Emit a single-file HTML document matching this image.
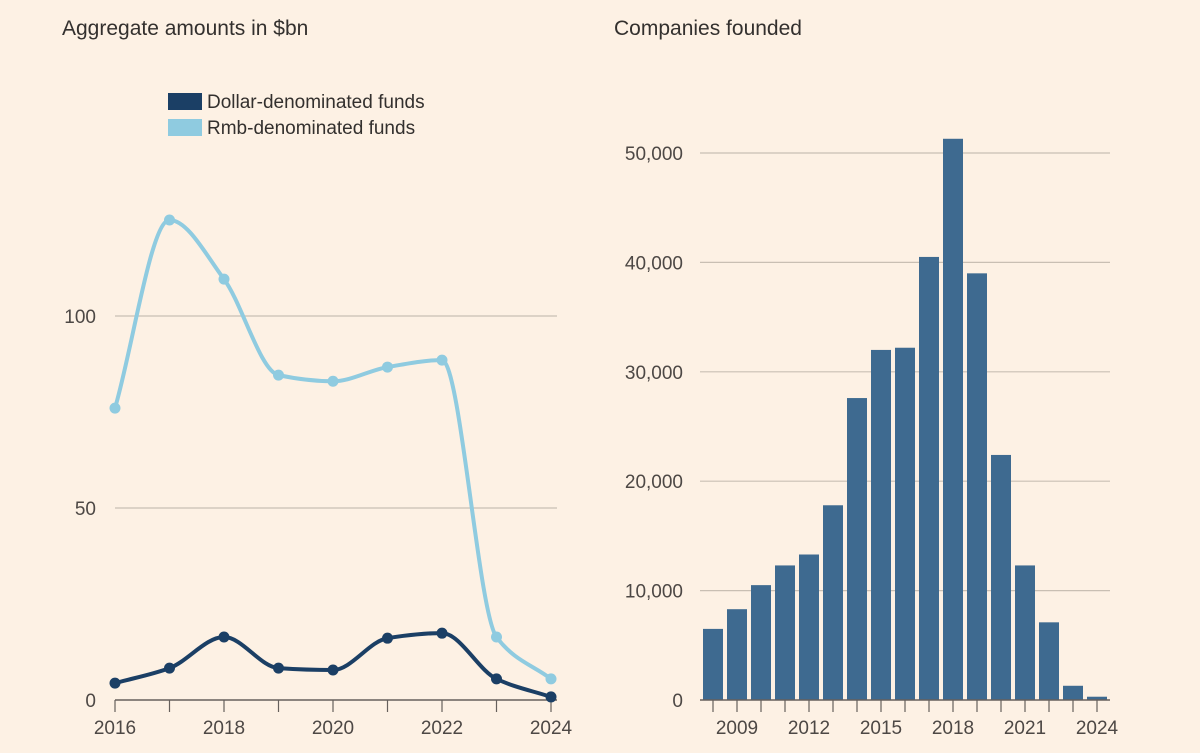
<!DOCTYPE html>
<html><head><meta charset="utf-8"><style>
body{margin:0;background:#fdf1e4;}
svg{display:block;font-family:"Liberation Sans",sans-serif;}
</style></head><body>
<svg width="1200" height="753" viewBox="0 0 1200 753">
<rect width="1200" height="753" fill="#fdf1e4"/>
<text x="62" y="35" font-size="21" fill="#33302e">Aggregate amounts in $bn</text>
<text x="614" y="35" font-size="21" fill="#33302e">Companies founded</text>
<g>
<rect x="168" y="93" width="34" height="17" fill="#1b3f65"/>
<text x="207" y="108" font-size="19" fill="#33302e">Dollar-denominated funds</text>
<rect x="168" y="119" width="34" height="17" fill="#8fcbe0"/>
<text x="207" y="134" font-size="19" fill="#33302e">Rmb-denominated funds</text>
</g>
<g id="left"></g>
<g id="right"></g>
</svg>
<script>
const years=[2016,2017,2018,2019,2020,2021,2022,2023,2024];
const rmbValues=[76,125,109.6,84.6,83,86.7,88.5,16.4,5.5];
const dollarValues=[4.4,8.3,16.4,8.3,7.8,16.1,17.4,5.5,0.8];
const leftTicks=[0,50,100];
const leftXLabels=[2016,2018,2020,2022,2024];
const barYears=[2008,2009,2010,2011,2012,2013,2014,2015,2016,2017,2018,2019,2020,2021,2022,2023,2024];
const barValues=[6500,8300,10500,12300,13300,17800,27600,32000,32200,40500,51300,39000,22400,12300,7100,1300,300];
const rightTicks=[0,10000,20000,30000,40000,50000];
const rightXLabels=[2009,2012,2015,2018,2021,2024];
const NS="http://www.w3.org/2000/svg";
function mk(tag,attrs,parent,txt){const e=document.createElementNS(NS,tag);for(const k in attrs)e.setAttribute(k,attrs[k]);if(txt!=null)e.textContent=txt;parent.appendChild(e);return e;}
const L=document.getElementById('left'),R=document.getElementById('right');
const lx=y=>115+(y-2016)*54.5, ly=v=>700-v*3.84;
leftTicks.forEach(t=>{
 const g=mk('line',{x1:115,x2:557,y1:ly(t),y2:ly(t),stroke:t==0?'#66605c':'#c9bfb3','stroke-width':t==0?1.5:1.2},L);
 
 const tx=mk('text',{x:96,y:ly(t)+7,'font-size':19,fill:'#4d4845','text-anchor':'end'},L,t);
 
});
years.forEach(y=>{
 const tk=mk('line',{x1:lx(y),x2:lx(y),y1:700,y2:712,stroke:'#66605c','stroke-width':1.2},L);
 
});
leftXLabels.forEach(y=>{
 const tx=mk('text',{x:lx(y),y:734,'font-size':19,fill:'#4d4845','text-anchor':'middle'},L,y);
 
});
function monotone(pts){
 const n=pts.length,dx=[],s=[],m=[];
 for(let i=0;i<n-1;i++){dx[i]=pts[i+1][0]-pts[i][0];s[i]=(pts[i+1][1]-pts[i][1])/dx[i];}
 m[0]=s[0];m[n-1]=s[n-2];
 for(let i=1;i<n-1;i++){ if(s[i-1]*s[i]<=0)m[i]=0; else {const h0=dx[i-1],h1=dx[i];m[i]=3*(h0+h1)/((2*h1+h0)/s[i-1]+(h1+2*h0)/s[i]);}}
 let d='M'+pts[0][0]+','+pts[0][1];
 for(let i=0;i<n-1;i++){const h=dx[i]/3;d+=' C'+(pts[i][0]+h)+','+(pts[i][1]+m[i]*h)+' '+(pts[i+1][0]-h)+','+(pts[i+1][1]-m[i+1]*h)+' '+pts[i+1][0]+','+pts[i+1][1];}
 return d;}
[[rmbValues,'#8fcbe0','rmb'],[dollarValues,'#1b3f65','dollar']].forEach(([vals,c,n])=>{
 const pts=vals.map((v,i)=>[lx(years[i]),ly(v)]);
 const p=mk('path',{d:monotone(pts),fill:'none',stroke:c,'stroke-width':4,'stroke-linecap':'round'},L);
 
 pts.forEach((q,i)=>{const ci=mk('circle',{cx:q[0],cy:q[1],r:5.5,fill:c},L);
  });
});
const bx=y=>713+(y-2008)*24, by=v=>700-v*0.01094;
rightTicks.forEach(t=>{
 if(t>0){const g=mk('line',{x1:700,x2:1110,y1:by(t),y2:by(t),stroke:'#c9bfb3','stroke-width':1.2},R);
 }
 const tx=mk('text',{x:683,y:by(t)+7,'font-size':19,fill:'#4d4845','text-anchor':'end'},R,t.toLocaleString('en-US'));
 
});
barYears.forEach((y,i)=>{
 const r=mk('rect',{x:bx(y)-10,y:by(barValues[i]),width:20,height:700-by(barValues[i]),fill:'#3e6a90'},R);
 
 const tk=mk('line',{x1:bx(y),x2:bx(y),y1:700,y2:712,stroke:'#66605c','stroke-width':1.2},R);
 
});
const bl=mk('line',{x1:700,x2:1110,y1:700,y2:700,stroke:'#66605c','stroke-width':1.5},R);

rightXLabels.forEach(y=>{
 const tx=mk('text',{x:bx(y),y:734,'font-size':19,fill:'#4d4845','text-anchor':'middle'},R,y);
 
});
</script>
</body></html>
